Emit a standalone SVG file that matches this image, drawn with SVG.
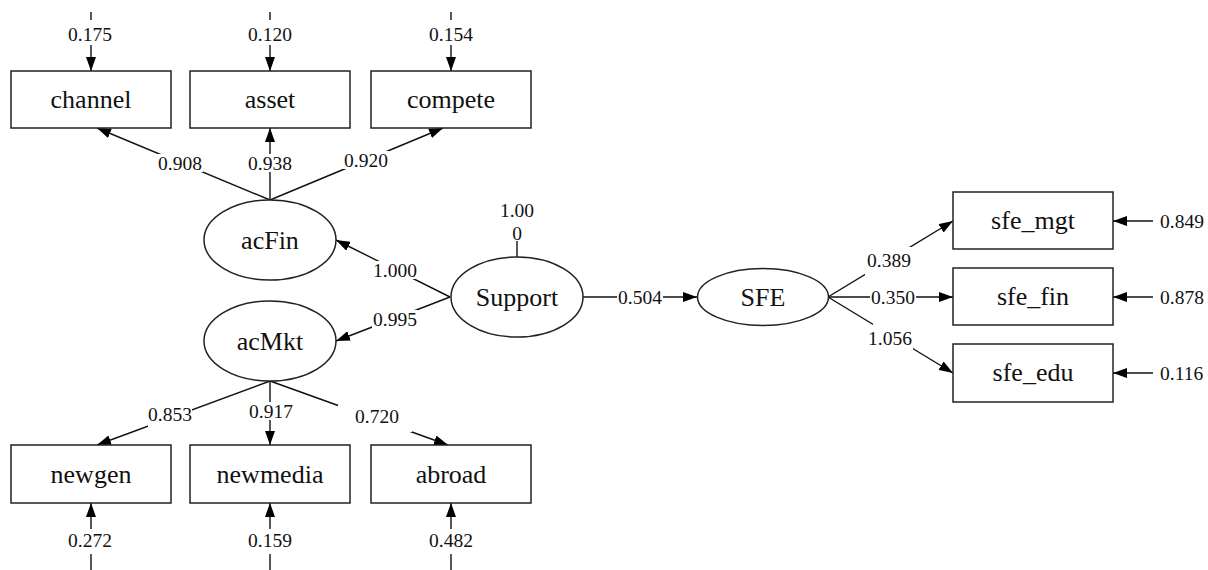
<svg xmlns="http://www.w3.org/2000/svg" width="1208" height="570" viewBox="0 0 1208 570">
  <style>
    .box { fill: #fff; stroke: #222; stroke-width: 1.5; }
    .lat { fill: #fff; stroke: #222; stroke-width: 1.5; }
    .name { font-family: "Liberation Serif", "Times New Roman", serif; font-size: 26px; fill: #111; text-anchor: middle; }
    .num { font-family: "Liberation Serif", "Times New Roman", serif; font-size: 19.5px; fill: #111; text-anchor: middle; }
    .numl { font-family: "Liberation Serif", "Times New Roman", serif; font-size: 19.5px; fill: #111; text-anchor: start; }
    .edge { stroke: #111; stroke-width: 1.4; fill: none; }
    .arr { marker-end: url(#head); }
    .bg { fill: #fff; }
  </style>
  <defs>
    <marker id="head" markerUnits="userSpaceOnUse" markerWidth="14" markerHeight="10" refX="14" refY="5" orient="auto">
      <path d="M0,0 L14,5 L0,10 z" fill="#000"/>
    </marker>
  </defs>
  <rect width="1208" height="570" fill="#fff"/>

  <!-- paths, loadings and error terms -->
  <g id="connectors">
    <!-- error terms, top indicators -->
    <line class="edge" x1="91" y1="12" x2="91" y2="20"/>
    <line class="edge arr" x1="91" y1="45" x2="91" y2="71"/>
    <line class="edge" x1="270" y1="12" x2="270" y2="20"/>
    <line class="edge arr" x1="270" y1="45" x2="270" y2="71"/>
    <line class="edge" x1="451" y1="12" x2="451" y2="20"/>
    <line class="edge arr" x1="451" y1="45" x2="451" y2="71"/>

    <!-- acFin loadings -->
    <line class="edge arr" x1="270" y1="200" x2="97" y2="128"/>
    <line class="edge arr" x1="270" y1="200" x2="270" y2="128"/>
    <line class="edge arr" x1="270" y1="200" x2="443" y2="128"/>

    <!-- Support variance -->
    <line class="edge" x1="517" y1="241" x2="517" y2="257"/>

    <!-- Support paths -->
    <line class="edge arr" x1="450" y1="297" x2="336" y2="240"/>
    <line class="edge arr" x1="450" y1="297" x2="336" y2="341"/>
    <line class="edge arr" x1="583" y1="297" x2="697" y2="297"/>

    <!-- acMkt loadings -->
    <line class="edge arr" x1="270" y1="381" x2="97" y2="445"/>
    <line class="edge arr" x1="270" y1="381" x2="270" y2="445"/>
    <line class="edge arr" x1="270" y1="381" x2="448" y2="445"/>

    <!-- error terms, bottom indicators -->
    <line class="edge arr" x1="91" y1="529" x2="91" y2="503"/>
    <line class="edge" x1="91" y1="554" x2="91" y2="570"/>
    <line class="edge arr" x1="270" y1="529" x2="270" y2="503"/>
    <line class="edge" x1="270" y1="554" x2="270" y2="570"/>
    <line class="edge arr" x1="451" y1="529" x2="451" y2="503"/>
    <line class="edge" x1="451" y1="554" x2="451" y2="570"/>

    <!-- SFE loadings -->
    <line class="edge arr" x1="828" y1="297" x2="953" y2="221"/>
    <line class="edge arr" x1="828" y1="297" x2="953" y2="297"/>
    <line class="edge arr" x1="828" y1="297" x2="953" y2="373"/>

    <!-- error terms, right indicators -->
    <line class="edge arr" x1="1153" y1="221" x2="1113" y2="221"/>
    <line class="edge arr" x1="1153" y1="297" x2="1113" y2="297"/>
    <line class="edge arr" x1="1153" y1="373" x2="1113" y2="373"/>
  </g>

  <!-- coefficient labels -->
  <g id="labels">
    <rect class="bg" x="157" y="154" width="46" height="18"/><text class="num" x="180" y="170">0.908</text>
    <rect class="bg" x="247" y="154" width="46" height="18"/><text class="num" x="270" y="170">0.938</text>
    <rect class="bg" x="343" y="151" width="46" height="18"/><text class="num" x="366" y="167">0.920</text>
    <rect class="bg" x="372" y="261" width="46" height="18"/><text class="num" x="395" y="277">1.000</text>
    <rect class="bg" x="372" y="310" width="46" height="18"/><text class="num" x="395" y="326">0.995</text>
    <rect class="bg" x="148" y="407" width="44" height="20"/><text class="num" x="170" y="421">0.853</text>
    <rect class="bg" x="248" y="402" width="46" height="18"/><text class="num" x="271" y="418">0.917</text>
    <rect class="bg" x="338" y="405" width="74" height="27"/><text class="num" x="377" y="423">0.720</text>
    <rect class="bg" x="617" y="288" width="46" height="18"/><text class="num" x="640" y="304">0.504</text>
    <rect class="bg" x="865" y="247" width="47" height="28"/><text class="num" x="889" y="267">0.389</text>
    <rect class="bg" x="870" y="288" width="46" height="18"/><text class="num" x="893" y="304">0.350</text>
    <rect class="bg" x="873" y="324" width="40" height="26"/><text class="num" x="890" y="345">1.056</text>

    <text class="num" x="90" y="41">0.175</text>
    <text class="num" x="270" y="41">0.120</text>
    <text class="num" x="451" y="41">0.154</text>
    <text class="num" x="90" y="547">0.272</text>
    <text class="num" x="270" y="547">0.159</text>
    <text class="num" x="451" y="547">0.482</text>
    <text class="numl" x="1160" y="228">0.849</text>
    <text class="numl" x="1160" y="304">0.878</text>
    <text class="numl" x="1160" y="380">0.116</text>

    <text class="num" x="517" y="217">1.00</text>
    <text class="num" x="517" y="240">0</text>
  </g>

  <!-- observed indicators -->
  <g id="channel"><rect class="box" x="11" y="71" width="160" height="57"/><text class="name" x="91" y="108">channel</text></g>
  <g id="asset"><rect class="box" x="190" y="71" width="160" height="57"/><text class="name" x="270" y="108">asset</text></g>
  <g id="compete"><rect class="box" x="371" y="71" width="160" height="57"/><text class="name" x="451" y="108">compete</text></g>

  <g id="newgen"><rect class="box" x="11" y="445" width="160" height="58"/><text class="name" x="91" y="483">newgen</text></g>
  <g id="newmedia"><rect class="box" x="190" y="445" width="160" height="58"/><text class="name" x="270" y="483">newmedia</text></g>
  <g id="abroad"><rect class="box" x="371" y="445" width="160" height="58"/><text class="name" x="451" y="483">abroad</text></g>

  <g id="sfe_mgt"><rect class="box" x="953" y="192" width="160" height="57"/><text class="name" x="1033" y="229">sfe_mgt</text></g>
  <g id="sfe_fin"><rect class="box" x="953" y="268" width="160" height="57"/><text class="name" x="1033" y="305">sfe_fin</text></g>
  <g id="sfe_edu"><rect class="box" x="953" y="344" width="160" height="58"/><text class="name" x="1033" y="381">sfe_edu</text></g>

  <!-- latent factors -->
  <g id="acFin"><ellipse class="lat" cx="270" cy="240" rx="66" ry="40"/><text class="name" x="270" y="249">acFin</text></g>
  <g id="acMkt"><ellipse class="lat" cx="270" cy="341" rx="66" ry="40"/><text class="name" x="270" y="350">acMkt</text></g>
  <g id="Support"><ellipse class="lat" cx="517" cy="297" rx="66" ry="40"/><text class="name" x="517" y="306">Support</text></g>
  <g id="SFE"><ellipse class="lat" cx="763" cy="297" rx="65.5" ry="28.5"/><text class="name" x="763" y="306">SFE</text></g>
</svg>
